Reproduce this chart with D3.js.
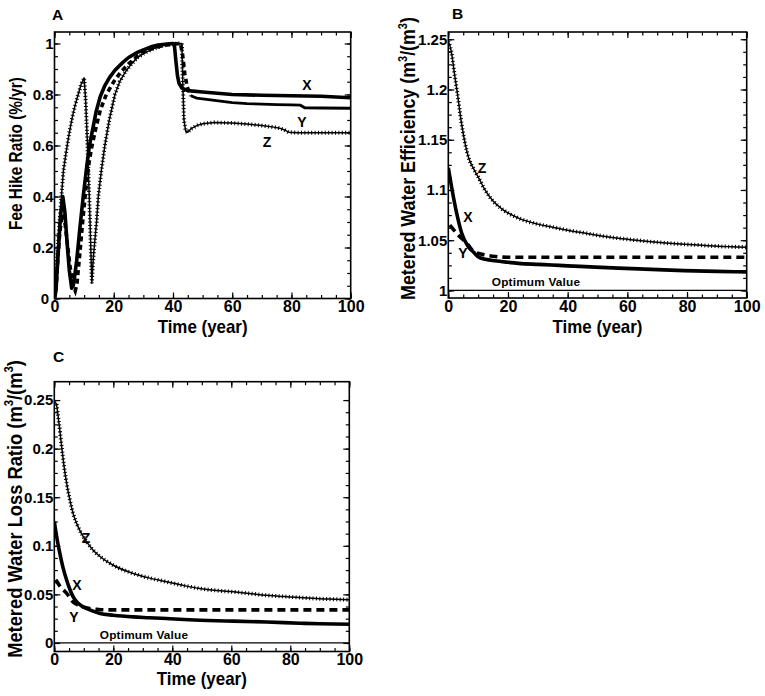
<!DOCTYPE html>
<html>
<head>
<meta charset="utf-8">
<script src="https://cdn.jsdelivr.net/npm/d3@7"></script>
<style>
html,body{margin:0;padding:0;background:#fff;}
svg{display:block;font-family:"Liberation Sans",Arial,Helvetica,sans-serif;}
</style>
</head>
<body>
<svg id="chart" width="765" height="696"></svg>
<script>
// ---------------- DATA ([year, value]) ----------------
// Panel A: Fee Hike Ratio (%/yr)
const feeX = [[0,0.0],[0.5,0.03],[1.2,0.17],[2.0,0.32],[2.8,0.40],[3.5,0.34],[4.3,0.21],[5.0,0.11],[5.8,0.04],[6.5,0.06],[7.5,0.15],[8.6,0.28],[9.7,0.40],[10.9,0.52],[11.8,0.60],[13,0.67],[14,0.73],[15.4,0.79],[17,0.835],[18.5,0.865],[20.4,0.895],[23,0.925],[25,0.945],[28,0.965],[30,0.975],[33,0.988],[35,0.994],[38,0.998],[40,1.0],[40.5,0.99],[41,0.93],[41.5,0.875],[42,0.845],[43,0.825],[45,0.815],[50,0.81],[55,0.805],[60,0.80],[70,0.797],[80,0.795],[90,0.793],[100,0.787]];
const feeY = [[0,0.0],[0.6,0.05],[1.2,0.17],[1.8,0.26],[2.6,0.33],[3.4,0.31],[4.3,0.22],[5.3,0.12],[6.3,0.05],[7.0,0.03],[7.6,0.06],[8.5,0.17],[9.5,0.30],[10.5,0.42],[11.5,0.52],[12.5,0.59],[14,0.67],[15.5,0.74],[17.5,0.80],[20,0.85],[22.5,0.89],[25,0.92],[28,0.95],[30,0.965],[33,0.98],[36,0.99],[40,0.998],[42.5,1.0],[43.2,0.96],[44,0.88],[44.8,0.83],[46,0.795],[48,0.786],[52,0.78],[56,0.774],[60,0.768],[65,0.764],[70,0.762],[75,0.760],[80,0.759],[83,0.758],[84.5,0.748],[90,0.747],[100,0.746]];
const feeZ = [[0,0.0],[0.5,0.09],[1,0.18],[2,0.35],[3,0.50],[4,0.58],[5,0.65],[6,0.71],[7,0.76],[8,0.80],[9,0.84],[10,0.865],[10.5,0.78],[11,0.64],[11.5,0.48],[12,0.30],[12.6,0.06],[13,0.14],[13.4,0.20],[14.2,0.30],[14.8,0.40],[15.8,0.50],[17,0.60],[18.5,0.70],[20.4,0.80],[22,0.85],[24,0.89],[26,0.92],[28,0.945],[30,0.96],[33,0.978],[36,0.99],[40,0.999],[43,1.0],[43.3,0.85],[43.7,0.70],[44.3,0.655],[45,0.652],[46,0.665],[48,0.678],[50,0.685],[54,0.69],[60,0.688],[65,0.684],[70,0.678],[74,0.672],[76,0.668],[77.5,0.662],[79,0.652],[82,0.65],[90,0.65],[100,0.65]];

// Panel B: Metered Water Efficiency
const effX = [[0,1.122],[1.1,1.103],[2.8,1.077],[4.5,1.057],[6.7,1.0436],[8.5,1.038],[10,1.0336],[12.5,1.031],[15.6,1.0295],[20,1.028],[23.5,1.027],[30,1.026],[34.6,1.0254],[40,1.0245],[45.8,1.0237],[57,1.0222],[68,1.021],[79,1.0197],[90,1.019],[100,1.0185]];
const effY = [[0.5,1.065],[3.4,1.055],[6.2,1.047],[8.4,1.039],[11.2,1.036],[15,1.034],[20,1.033],[30,1.033],[40,1.033],[50,1.033],[60,1.033],[70,1.033],[80,1.033],[90,1.033],[100,1.033]];
const effZ = [[0,1.248],[1,1.238],[2,1.217],[3,1.197],[4.5,1.165],[6.7,1.133],[8.5,1.121],[10,1.113],[12.3,1.10],[15,1.089],[18,1.081],[23.5,1.072],[30,1.066],[35,1.063],[40,1.060],[46,1.057],[52,1.054],[57,1.052],[63,1.050],[68,1.0485],[74,1.047],[79,1.046],[85,1.045],[90.5,1.044],[95,1.0435],[100,1.043]];
const effOptimum = [[0,1],[100,1]];

// Panel C: Metered Water Loss Ratio
const lossX = [[0,0.125],[1,0.106],[1.9,0.092],[3,0.077],[4.2,0.0646],[5.3,0.055],[6.4,0.0474],[8,0.041],[9.8,0.037],[12.5,0.0335],[15.5,0.0303],[20,0.0285],[26.8,0.0268],[32,0.026],[38,0.0251],[44,0.0242],[49.4,0.0234],[55,0.0228],[60.7,0.0225],[72,0.0216],[83.3,0.0203],[90,0.0197],[100,0.0192]];
const lossY = [[0.5,0.065],[2,0.058],[4.2,0.051],[6.4,0.042],[8.2,0.039],[9.8,0.037],[12,0.0354],[15,0.0345],[20,0.034],[30,0.034],[40,0.034],[50,0.034],[60,0.034],[70,0.034],[80,0.034],[90,0.034],[100,0.034]];
const lossZ = [[0,0.248],[0.6,0.2466],[1.5,0.228],[2.5,0.202],[3.3,0.182],[4.2,0.164],[5.3,0.147],[6.4,0.133],[8,0.12],[9.5,0.111],[11,0.104],[13,0.096],[15.5,0.089],[20,0.080],[26.8,0.0715],[32,0.067],[38,0.063],[44,0.059],[49.4,0.056],[55,0.054],[60.7,0.0526],[66,0.051],[72,0.049],[78,0.0478],[83.3,0.0467],[90,0.0455],[95,0.045],[100,0.0445]];
const lossOptimum = [[0,0],[100,0]];

// Ticks
const xTicks = [0,20,40,60,80,100];
const xMinor = [0,5,10,15,20,25,30,35,40,45,50,55,60,65,70,75,80,85,90,95,100];
const yTicksA = [0,0.2,0.4,0.6,0.8,1];
const yMinorA = [0,0.05,0.1,0.15,0.2,0.25,0.3,0.35,0.4,0.45,0.5,0.55,0.6,0.65,0.7,0.75,0.8,0.85,0.9,0.95,1.0];
const yTicksB = [1,1.05,1.1,1.15,1.2,1.25];
const yMinorB = [1,1.0125,1.025,1.0375,1.05,1.0625,1.075,1.0875,1.1,1.1125,1.125,1.1375,1.15,1.1625,1.175,1.1875,1.2,1.2125,1.225,1.2375,1.25];
const yTicksC = [0,0.05,0.1,0.15,0.2,0.25];
const yMinorC = [0,0.0125,0.025,0.0375,0.05,0.0625,0.075,0.0875,0.1,0.1125,0.125,0.1375,0.15,0.1625,0.175,0.1875,0.2,0.2125,0.225,0.2375,0.25];

// ---------------- DRAWING ----------------
const svg = d3.select('#chart');
svg.append('rect').attr('width',765).attr('height',696).attr('fill','#fff');

function fitScale(sel, target){
  const w = sel.node().getBBox().width;
  sel.attr('transform', `scale(${target/w},1)`);
}

function styleAxis(g, fs){
  g.select('.domain').remove();
  g.selectAll('line').attr('stroke','#000').attr('stroke-width',1.2);
  g.selectAll('text').attr('fill','#000').attr('font-size',fs).attr('font-weight','bold').attr('font-family','"Liberation Sans",Arial,sans-serif');
}

function drawPanel(o){
  const g = svg.append('g');
  const x = d3.scaleLinear().domain([0,100]).range([o.l,o.r]);
  const y = d3.scaleLinear().domain(o.yDomain).range([o.b,o.t]);
  const clipId = 'clip' + o.letter;
  svg.append('clipPath').attr('id',clipId).append('rect')
    .attr('x',o.l).attr('y',o.t).attr('width',o.r-o.l).attr('height',o.b-o.t);

  // axes: major + minor, inward on all sides
  const fmtY = o.fmt;
  styleAxis(g.append('g').attr('transform',`translate(0,${o.b})`)
    .call(d3.axisBottom(x).tickValues(xTicks).tickSize(-6).tickSizeOuter(0).tickPadding(2.5).tickFormat(d=>d)), 16);
  styleAxis(g.append('g').attr('transform',`translate(0,${o.b})`)
    .call(d3.axisBottom(x).tickValues(xMinor).tickSize(-3.5).tickSizeOuter(0).tickFormat('')), 0);
  styleAxis(g.append('g').attr('transform',`translate(0,${o.t})`)
    .call(d3.axisTop(x).tickValues(xTicks).tickSize(-6).tickSizeOuter(0).tickFormat('')), 0);
  styleAxis(g.append('g').attr('transform',`translate(0,${o.t})`)
    .call(d3.axisTop(x).tickValues(xMinor).tickSize(-3.5).tickSizeOuter(0).tickFormat('')), 0);
  const yAx = g.append('g').attr('transform',`translate(${o.l},0)`)
    .call(d3.axisLeft(y).tickValues(o.yTicks).tickSize(-6).tickSizeOuter(0).tickPadding(1).tickFormat(fmtY));
  styleAxis(yAx, 15);
  if (o.zeroShift){
    // the corner "0" of the y axis sits just left of the x-axis "0"
    yAx.selectAll('.tick').filter(d=>d===0).select('text').attr('x', -1 - o.zeroShift);
  }
  styleAxis(g.append('g').attr('transform',`translate(${o.l},0)`)
    .call(d3.axisLeft(y).tickValues(o.yMinor).tickSize(-3.5).tickSizeOuter(0).tickFormat('')), 0);
  styleAxis(g.append('g').attr('transform',`translate(${o.r},0)`)
    .call(d3.axisRight(y).tickValues(o.yTicks).tickSize(-6).tickSizeOuter(0).tickFormat('')), 0);
  styleAxis(g.append('g').attr('transform',`translate(${o.r},0)`)
    .call(d3.axisRight(y).tickValues(o.yMinor).tickSize(-3.5).tickSizeOuter(0).tickFormat('')), 0);

  const plot = g.append('g').attr('clip-path',`url(#${clipId})`);
  const line = d3.line().x(d=>x(d[0])).y(d=>y(d[1])).curve(o.curve);

  // optimum line
  if (o.opt){
    plot.append('path').datum(o.opt).attr('d', d3.line().x(d=>x(d[0])).y(d=>y(d[1])))
      .attr('fill','none').attr('stroke','#000').attr('stroke-width',1.2);
  }
  // Z: thin line with cross markers look
  plot.append('path').datum(o.z).attr('d',line).attr('fill','none')
    .attr('stroke','#000').attr('stroke-width',1.5).attr('stroke-linejoin','round');
  plot.append('path').datum(o.z).attr('d',line).attr('fill','none')
    .attr('stroke','#000').attr('stroke-width',4).attr('stroke-dasharray','1,2.4');
  // Y: dashed
  if (o.ySplit !== undefined){
    plot.append('path').datum(o.y.filter(d=>d[0]<=o.ySplit)).attr('d',line).attr('fill','none')
      .attr('stroke','#000').attr('stroke-width',3.6).attr('stroke-dasharray','5,3.5');
    plot.append('path').datum(o.y.filter(d=>d[0]>=o.ySplit)).attr('d',line).attr('fill','none')
      .attr('stroke','#000').attr('stroke-width',2.8);
  } else {
    plot.append('path').datum(o.y).attr('d',line).attr('fill','none')
      .attr('stroke','#000').attr('stroke-width',3.6).attr('stroke-dasharray','8,5');
  }
  // X: thick solid
  plot.append('path').datum(o.x).attr('d',line).attr('fill','none')
    .attr('stroke','#000').attr('stroke-width',3.6).attr('stroke-linejoin','round');

  // frame
  g.append('rect').attr('x',o.l).attr('y',o.t).attr('width',o.r-o.l).attr('height',o.b-o.t)
    .attr('fill','none').attr('stroke','#000').attr('stroke-width',1.6);

  // panel letter
  g.append('text').attr('x',o.letterPos[0]).attr('y',o.letterPos[1]).text(o.letter)
    .attr('font-size',15.5).attr('font-weight','bold');

  // series labels
  o.labels.forEach(l=>{
    g.append('text').attr('x',l[1]).attr('y',l[2]).attr('text-anchor','middle')
      .attr('font-size',14).attr('font-weight','bold').text(l[0]);
  });
  if (o.optText){
    g.append('text').attr('x',o.optText[0]).attr('y',o.optText[1]).attr('text-anchor','middle')
      .attr('font-size',11.8).attr('font-weight','bold').attr('letter-spacing',0.2).text('Optimum Value');
  }

  // x title
  const xt = g.append('g').attr('transform',`translate(${(o.l+o.r)/2},${o.xTitleY})`)
    .append('text').attr('text-anchor','middle').attr('font-size',17.5).attr('font-weight','bold').text('Time (year)');
  fitScale(xt, 90);

  // y title
  const ytg = g.append('g').attr('transform',`translate(${o.yTitle[0]},${o.yTitle[1]}) rotate(-90)`);
  const yt = ytg.append('text').attr('text-anchor','middle').attr('font-size',o.yTitle[2]).attr('font-weight','bold');
  o.yTitleParts(yt, o.yTitle[2]);
  fitScale(yt, o.yTitle[3]);
}

function unitTitle(main){
  return function(t, fs){
    const sup = fs*0.62, sh = fs*0.42;
    t.append('tspan').text(main + ' (m');
    t.append('tspan').attr('font-size',sup).attr('dy',-sh).text('3');
    t.append('tspan').attr('dy',sh).text('/(m');
    t.append('tspan').attr('font-size',sup).attr('dy',-sh).text('3');
    t.append('tspan').attr('dy',sh).text(')');
  };
}

drawPanel({
  letter:'A', l:54.5, r:350.7, t:32, b:298.5, yDomain:[0,1.045],
  yTicks:yTicksA, yMinor:yMinorA, fmt:d=>String(d), zeroShift:4.5,
  x:feeX, y:feeY, z:feeZ, ySplit:46, curve:d3.curveLinear,
  letterPos:[52,20],
  labels:[['X',307,90],['Y',302,127],['Z',267,147]],
  xTitleY:333,
  yTitle:[21.5,153.5,18.5,153],
  yTitleParts:(t)=>t.text('Fee Hike Ratio (%/yr)')
});

drawPanel({
  letter:'B', l:448.3, r:746.7, t:32, b:298, yDomain:[0.9925,1.2572],
  yTicks:yTicksB, yMinor:yMinorB, fmt:d=>String(d),
  x:effX, y:effY, z:effZ, opt:effOptimum, curve:d3.curveMonotoneX,
  letterPos:[452,19],
  labels:[['Z',482,173],['X',468,222],['Y',463,258]],
  optText:[536,286],
  xTitleY:333,
  yTitle:[415,158.5,20,283],
  yTitleParts:unitTitle('Metered Water Efficiency')
});

drawPanel({
  letter:'C', l:54.3, r:349.3, t:381.7, b:651.5, yDomain:[-0.0088,0.2689],
  yTicks:yTicksC, yMinor:yMinorC, fmt:d=>String(d),
  x:lossX, y:lossY, z:lossZ, opt:lossOptimum, curve:d3.curveMonotoneX,
  letterPos:[53,362],
  labels:[['Z',86,543],['X',77,590],['Y',74,622]],
  optText:[144,638.5],
  xTitleY:685,
  yTitle:[21.5,509,20.5,298],
  yTitleParts:unitTitle('Metered Water Loss Ratio')
});
</script>
</body>
</html>
